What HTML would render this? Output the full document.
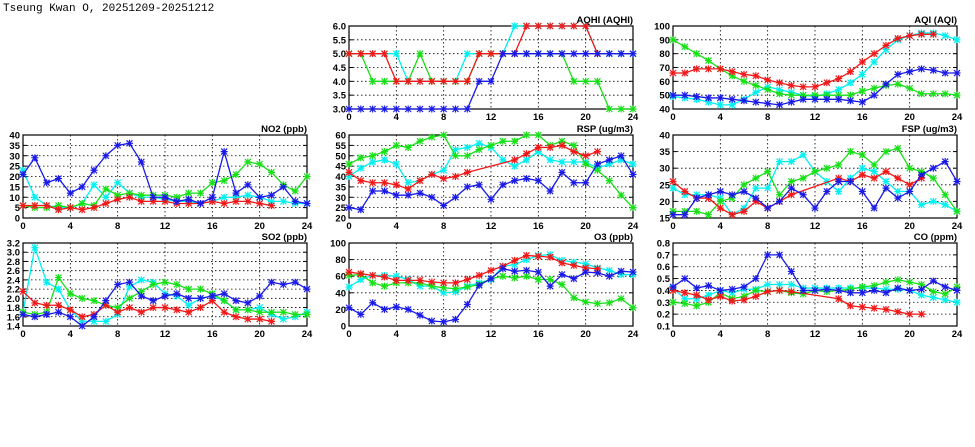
<!DOCTYPE html>
<html><head><meta charset="utf-8"><style>
body{margin:0;background:#fff;width:975px;height:447px;overflow:hidden}
svg{display:block}
text{font-family:"Liberation Sans",sans-serif;font-size:9.5px;font-weight:bold;fill:#000}
</style></head><body>
<svg id="s" width="975" height="447" xmlns="http://www.w3.org/2000/svg">
<text x="3" y="11" style="font-family:'Liberation Mono',monospace;font-size:11px;font-weight:normal">Tseung Kwan O, 20251209-20251212</text>
</svg>
<script>
const N=null;
const C={b:"#1a1ae6",c:"#00f0f0",g:"#18e018",r:"#f01818"};
const P=[
{t:"AQHI (AQHI)",x:349,y:26,min:3,max:6,step:0.5,dec:1,s:{
g:[5,5,4,4,4,4,5,4,4,4,4,5,5,5,5,5,5,5,5,4,4,4,3,3,3],
c:[5,5,5,5,5,4,4,4,4,4,5,5,5,5,6,6,6,6,6,6,6,5,5,5,5],
r:[5,5,5,5,4,4,4,4,4,4,4,5,5,5,5,6,6,6,6,6,6,5],
b:[3,3,3,3,3,3,3,3,3,3,3,4,4,5,5,5,5,5,5,5,5,5,5,5,5]}},
{t:"AQI (AQI)",x:673,y:26,min:40,max:100,step:10,dec:0,s:{
g:[90,85,80,75,69,64,60,57,54,51,50,50,50,50,50,50,53,55,57,58,55,51,51,51,50],
c:[49,48,47,45,43,43,47,52,56,54,52,50,49,51,54,59,65,74,83,90,93,95,95,93,90],
r:[66,66,69,69,69,67,65,64,61,59,57,56,56,59,62,67,74,80,86,91,93,94,94],
b:[50,50,49,48,48,47,46,45,44,43,45,47,47,47,47,46,45,50,58,65,67,69,68,66,66]}},
{t:"NO2 (ppb)",x:23,y:135,min:0,max:40,step:5,dec:0,s:{
c:[23,10,6,5,5,7,16,10,17,12,10,10,9,8,8,7,8,10,10,11,10,8,8,7,7],
g:[6,5,5,6,5,7,6,14,11,12,11,11,11,10,12,12,17,18,21,27,26,22,16,13,20],
r:[6,6,6,4,5,4,5,7,9,10,8,8,8,7,7,7,8,7,8,8,7,6],
b:[21,29,17,19,12,15,23,30,35,36,27,10,10,8,9,7,10,32,12,16,10,11,15,8,7]}},
{t:"RSP (ug/m3)",x:349,y:135,min:20,max:60,step:5,dec:0,s:{
g:[46,49,50,52,55,54,57,59,60,50,50,53,55,57,57,60,60,55,57,55,46,43,38,31,25],
c:[40,44,47,48,46,37,38,41,43,53,54,56,54,48,45,48,52,48,47,47,47,44,46,48,46],
r:[42,38,37,37,36,34,38,41,39,40,42,N,N,N,48,51,54,54,55,52,50,52],
b:[25,24,33,33,31,31,32,30,26,30,35,36,29,36,38,39,38,33,42,37,37,46,48,50,41]}},
{t:"FSP (ug/m3)",x:673,y:135,min:15,max:40,step:5,dec:0,s:{
g:[17,17,17,16,20,21,25,27,29,22,26,27,29,30,31,35,34,31,35,36,30,29,27,22,17],
c:[24,22,22,22,21,16,18,24,24,32,32,34,29,26,23,27,30,29,26,23,23,19,20,19,17],
r:[26,23,21,21,18,16,17,20,18,20,22,N,N,N,27,26,28,27,29,27,25,27],
b:[16,16,21,22,23,22,23,21,18,20,24,22,18,23,26,26,23,18,24,21,23,28,30,32,26]}},
{t:"SO2 (ppb)",x:23,y:243,min:1.4,max:3.2,step:0.2,dec:1,s:{
c:[1.7,3.1,2.35,2.2,1.75,1.5,1.5,1.5,1.65,2.25,2.4,2.35,2.1,2.05,1.85,2.0,2.05,1.95,1.75,1.75,1.8,1.65,1.55,1.6,1.7],
g:[1.7,1.65,1.7,2.45,2.1,2.0,1.95,1.85,1.8,2.0,2.15,2.3,2.35,2.3,2.2,2.2,2.1,1.95,1.75,1.75,1.7,1.7,1.7,1.65,1.65],
r:[2.15,1.9,1.85,1.85,1.75,1.6,1.65,1.85,1.7,1.8,1.7,1.8,1.8,1.75,1.7,1.8,1.95,1.7,1.6,1.55,1.55,1.5],
b:[1.65,1.6,1.65,1.7,1.6,1.4,1.6,1.95,2.3,2.35,2.05,1.95,2.05,2.1,2.0,2.0,2.05,2.1,1.95,1.9,2.05,2.35,2.3,2.35,2.2]}},
{t:"O3 (ppb)",x:349,y:243,min:0,max:100,step:20,dec:0,s:{
c:[47,56,61,61,60,56,48,48,40,41,48,52,56,72,74,80,85,86,79,77,75,70,67,62,62],
g:[61,62,52,48,52,52,52,48,46,45,47,50,57,60,58,60,56,56,50,34,29,27,28,33,22],
r:[65,63,61,59,55,55,55,53,52,52,56,61,67,72,79,85,84,83,76,73,70,69],
b:[22,14,28,20,23,20,13,6,5,8,26,49,57,69,66,67,65,48,62,57,65,64,60,66,65]}},
{t:"CO (ppm)",x:673,y:243,min:0.1,max:0.8,step:0.1,dec:1,s:{
c:[0.42,0.33,0.33,0.36,0.4,0.38,0.41,0.41,0.45,0.45,0.45,0.42,0.42,0.42,0.42,0.42,0.42,0.42,0.41,0.41,0.4,0.36,0.34,0.32,0.3],
g:[0.3,0.29,0.27,0.3,0.38,0.33,0.35,0.4,0.39,0.4,0.38,0.37,0.4,0.39,0.4,0.41,0.43,0.44,0.47,0.49,0.47,0.45,0.39,0.37,0.43],
r:[0.4,0.38,0.36,0.32,0.35,0.31,0.32,0.35,0.39,0.4,0.39,N,N,N,0.33,0.27,0.26,0.25,0.24,0.22,0.2,0.2],
b:[0.43,0.5,0.42,0.44,0.4,0.41,0.43,0.5,0.7,0.7,0.56,0.4,0.4,0.41,0.4,0.38,0.38,0.4,0.38,0.42,0.4,0.41,0.48,0.43,0.4]}}
];
const W=284,H=83;let h="";
for(const p of P){
 const X=i=>p.x+i*W/24, Y=v=>p.y+H-(v-p.min)/(p.max-p.min)*H;
 const n=Math.round((p.max-p.min)/p.step);
 for(let k=0;k<=n;k++){const v=p.min+k*p.step,y=Y(v);
  if(k>0&&k<n)h+=`<line x1="${p.x}" y1="${y}" x2="${p.x+W}" y2="${y}" stroke="#000" stroke-width="0.8" stroke-dasharray="1.5,2.5"/>`;
  h+=`<line x1="${p.x}" y1="${y}" x2="${p.x+4}" y2="${y}" stroke="#000"/><line x1="${p.x+W-4}" y1="${y}" x2="${p.x+W}" y2="${y}" stroke="#000"/>`;
  h+=`<text x="${p.x-3}" y="${y+3.5}" text-anchor="end">${v.toFixed(p.dec)}</text>`;}
 for(let i=0;i<=24;i+=4){const x=X(i);
  if(i>0&&i<24)h+=`<line x1="${x}" y1="${p.y}" x2="${x}" y2="${p.y+H}" stroke="#000" stroke-width="0.8" stroke-dasharray="1.5,2.5"/>`;
  h+=`<text x="${x}" y="${p.y+H+11}" text-anchor="middle">${i}</text>`;}
 h+=`<rect x="${p.x}" y="${p.y}" width="${W}" height="${H}" fill="none" stroke="#000" stroke-width="1.2"/>`;
 h+=`<text x="${p.x+W}" y="${p.y-3}" text-anchor="end">${p.t}</text>`;
 h+=`<g><clipPath id="cp${p.x}${p.y}"><rect x="${p.x-4}" y="${p.y-4}" width="${W+8}" height="${H+8}"/></clipPath></g>`;
 for(const k of ["c","g","r","b"]){const d=p.s[k];if(!d)continue;const pts=[];
  d.forEach((v,i)=>{if(v!==null)pts.push([X(i),Y(v)])});
  h+=`<polyline points="${pts.map(q=>q.join(",")).join(" ")}" fill="none" stroke="${C[k]}" stroke-width="1.3"/>`;
  for(const [x,y] of pts){h+=`<path d="M${x-3} ${y-3}L${x+3} ${y+3}M${x-3} ${y+3}L${x+3} ${y-3}M${x-3.5} ${y}H${x+3.5}M${x} ${y-3.5}V${y+3.5}" stroke="${C[k]}" stroke-width="1.2"/>`;}
 }
}
document.getElementById("s").insertAdjacentHTML("beforeend",h);
</script>
</body></html>
